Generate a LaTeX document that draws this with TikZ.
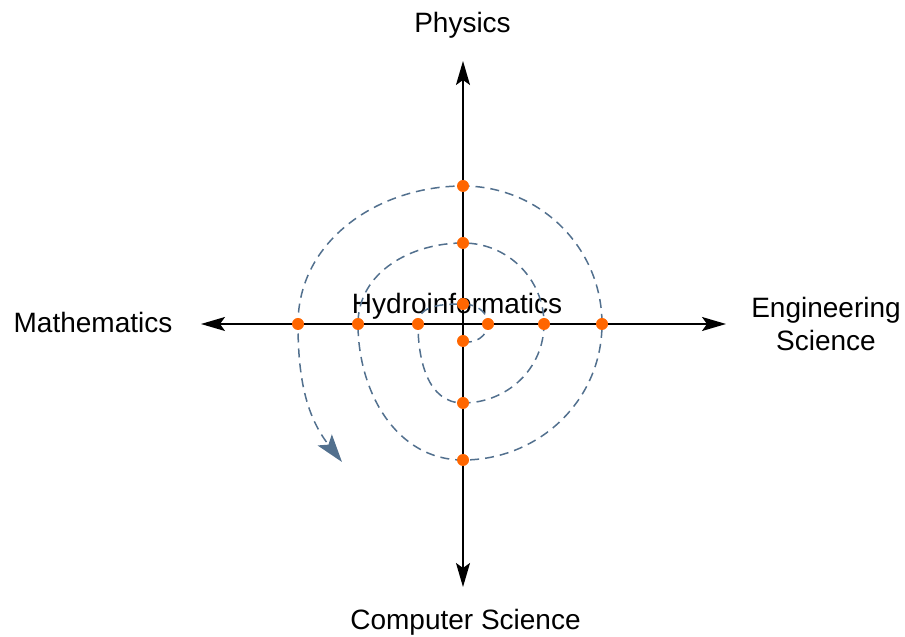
\documentclass[tikz,border=0pt]{standalone}
\usepackage{fontspec}
\setmainfont{Liberation Sans}
\usetikzlibrary{arrows.meta}
\begin{document}
\definecolor{spiralblue}{RGB}{82,112,142}
\definecolor{dotorange}{RGB}{255,102,0}
\tikzset{
  lbl/.style={font=\fontsize{28}{33.5}\selectfont, inner sep=0pt, text=black},
  axis/.style={line width=1.5pt, draw=black, -{Stealth[length=24pt,width=14pt,inset=5pt]}},
  spiral/.style={line width=1.5pt, draw=spiralblue, dash pattern=on 9pt off 6pt,
    -{Stealth[length=28pt,width=18pt,inset=6pt]}},
  pt/.style={circle, fill=dotorange, inner sep=0pt, minimum size=12pt},
}
\begin{tikzpicture}[x=1pt,y=1pt]
\useasboundingbox (0,0) rectangle (905,637);
% labels
\node[lbl, anchor=base] (phys) at (462.5,604) {Physics};
\node[lbl, anchor=base] (math) at (93,304) {Mathematics};
\node[lbl, align=center, anchor=center] (eng) at (826,313) {Engineering\\Science};
\node[lbl, anchor=base] (cs) at (465.5,7) {Computer Science};
\node[lbl, anchor=base] (hydro) at (457,323.7) {Hydroinformatics};
% axes
\coordinate (O) at (463,313);
\coordinate (tT) at (463,576);
\coordinate (tB) at (463,50);
\coordinate (tL) at (201,313);
\coordinate (tR) at (726,313);
\draw[axis] (O) -- (tT);
\draw[axis] (O) -- (tB);
\draw[axis] (O) -- (tL);
\draw[axis] (O) -- (tR);
% spiral points
\coordinate (p0) at (463,296);
\coordinate (p1) at (488,313);
\coordinate (p2) at (463,333);
\coordinate (p3) at (418,313);
\coordinate (p4) at (463,234);
\coordinate (p5) at (544,313);
\coordinate (p6) at (463,394);
\coordinate (p7) at (358,313);
\coordinate (p8) at (463,177);
\coordinate (p9) at (602,313);
\coordinate (p10) at (463,451);
\coordinate (p11) at (298,313);
\coordinate (pe) at (342,175);
\draw[spiral] (p0) to[out=-20,in=-90] (p1) to[out=90,in=0] (p2)
  to[out=180,in=90] (p3) to[out=-90,in=180] (p4) to[out=0,in=-90] (p5)
  to[out=90,in=0] (p6) to[out=180,in=90] (p7) to[out=-90,in=180] (p8)
  to[out=0,in=-90] (p9) to[out=90,in=0] (p10) to[out=180,in=90] (p11)
  to[out=-90,in=128] (pe);
% dots
\foreach \i in {0,...,11} { \node[pt] (d\i) at (p\i) {}; }
\end{tikzpicture}
\end{document}
